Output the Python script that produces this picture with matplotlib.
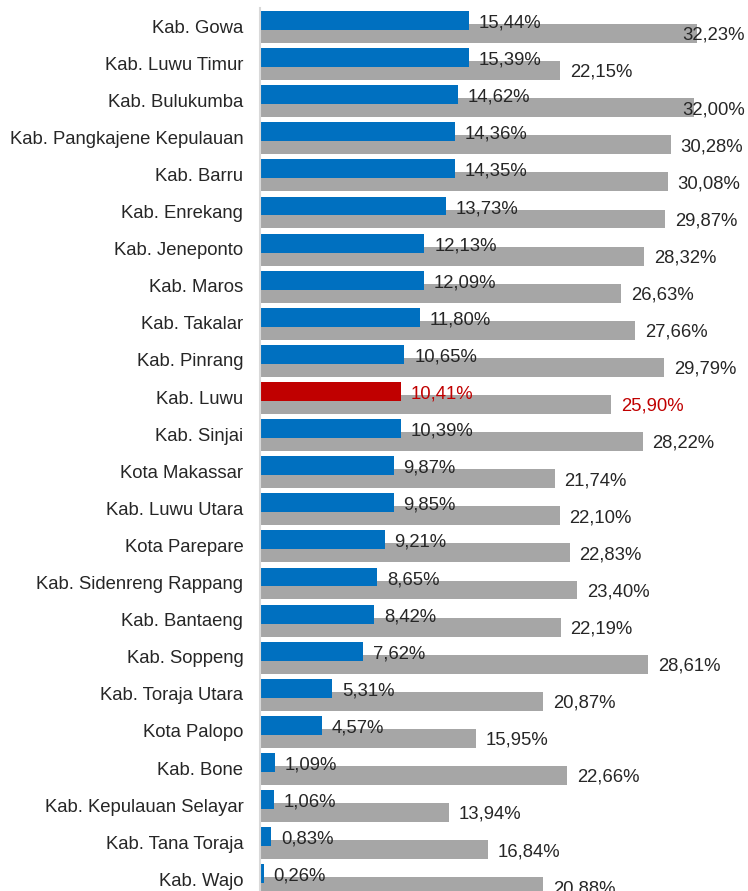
import matplotlib
matplotlib.use("Agg")
import matplotlib.pyplot as plt

plt.rcParams["font.family"] = ["Liberation Sans", "DejaVu Sans"]

REGIONS = [
    "Kab. Gowa", "Kab. Luwu Timur", "Kab. Bulukumba", "Kab. Pangkajene Kepulauan",
    "Kab. Barru", "Kab. Enrekang", "Kab. Jeneponto", "Kab. Maros", "Kab. Takalar",
    "Kab. Pinrang", "Kab. Luwu", "Kab. Sinjai", "Kota Makassar", "Kab. Luwu Utara",
    "Kota Parepare", "Kab. Sidenreng Rappang", "Kab. Bantaeng", "Kab. Soppeng",
    "Kab. Toraja Utara", "Kota Palopo", "Kab. Bone", "Kab. Kepulauan Selayar",
    "Kab. Tana Toraja", "Kab. Wajo",
]
GROWTH = [
    15.44, 15.39, 14.62, 14.36, 14.35, 13.73, 12.13, 12.09, 11.80, 10.65, 10.41, 10.39,
    9.87, 9.85, 9.21, 8.65, 8.42, 7.62, 5.31, 4.57, 1.09, 1.06, 0.83, 0.26,
]
SHARE = [
    32.23, 22.15, 32.00, 30.28, 30.08, 29.87, 28.32, 26.63, 27.66, 29.79, 25.90, 28.22,
    21.74, 22.10, 22.83, 23.40, 22.19, 28.61, 20.87, 15.95, 22.66, 13.94, 16.84, 20.88,
]
HIGHLIGHT = "Kab. Luwu"

BLUE = "#0070C0"
GREY = "#A6A6A6"
RED = "#C00000"
TEXT = "#262626"
FS = 13.3

W, H = 748, 891
fig = plt.figure(figsize=(W / 100, H / 100), dpi=100)
ax = fig.add_axes([260 / W, 0, 488 / W, (H - 8) / H])

pitch = 37.1
top_px = 20.5 - 8
ax.set_xlim(0, 488 / 13.56)
ax.set_ylim((H - 8 - top_px) / pitch, -top_px / pitch)

ypos = list(range(len(REGIONS)))
h = 0.51
shift = 0.35
ax.barh([y + shift for y in ypos], SHARE, height=h, color=GREY, zorder=1)
blue_colors = [RED if r == HIGHLIGHT else BLUE for r in REGIONS]
ax.barh(ypos, GROWTH, height=h, color=blue_colors, zorder=2)

xmax = ax.get_xlim()[1]
for y, r, g, s in zip(ypos, REGIONS, GROWTH, SHARE):
    c = RED if r == HIGHLIGHT else TEXT
    ax.annotate(f"{g:.2f}%".replace(".", ","), (g, y + 0.07), xytext=(7, 0),
                textcoords="offset points", ha="left", va="center",
                fontsize=FS, color=c, zorder=3)
    label = f"{s:.2f}%".replace(".", ",")
    if s > 31:
        ax.annotate(label, (xmax, y + shift + 0.05), xytext=(-2, 0),
                    textcoords="offset points", ha="right", va="center",
                    fontsize=FS, color=c, zorder=3, annotation_clip=False)
    else:
        ax.annotate(label, (s, y + shift + 0.05), xytext=(7, 0),
                    textcoords="offset points", ha="left", va="center",
                    fontsize=FS, color=c, zorder=3)

# category names sit between the two bars of each row
ax.set_yticks([y + 0.15 for y in ypos])
ax.set_yticklabels(REGIONS, fontsize=FS, color=TEXT)
ax.tick_params(axis="y", length=0, pad=12)
ax.set_xticks([])
for side in ["top", "right", "bottom"]:
    ax.spines[side].set_visible(False)
ax.spines["left"].set_color("#D9D9D9")
ax.spines["left"].set_linewidth(1.5)

fig.savefig("out.png", dpi=100)
